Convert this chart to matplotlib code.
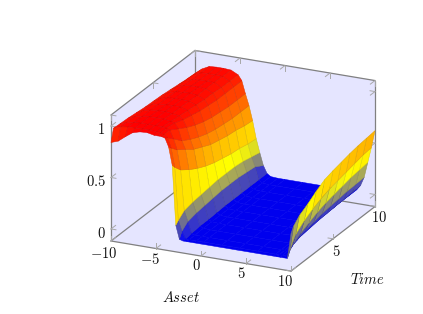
import numpy as np
import matplotlib
matplotlib.use("Agg")
import matplotlib.pyplot as plt
from matplotlib.colors import LinearSegmentedColormap
from mpl_toolkits.mplot3d import proj3d
from mpl_toolkits.mplot3d.art3d import Poly3DCollection

plt.rcParams['mathtext.fontset'] = 'cm'

asset = [-10, -9.2, -8.4, -7.6, -6.8, -6, -5.2, -4.8, -4.4, -4, -3.6, -3.2, -2.8, -2.4, -2, -1.6, -0.8, 0, 2, 4, 6, 8, 8.4, 8.8, 9.2, 9.6, 10]
time = [0, 0.3, 1, 2, 3, 4, 5, 6, 7, 8, 9, 10]
price_t00 = [.84, .865, .92, .97, .99, .995, .98, .98, .98, .97, .89, .72, .14, .01, 0, 0, 0, 0, 0, 0, 0, 0, 0, 0, 0, 0, .25]
price_t03 = [.96, .985, .995, .995, 1, 1, .995, .99, .98, .955, .86, .68, .17, .07, 0, 0, 0, 0, 0, 0, 0, 0, 0, 0, 0, .06, .30]
price_t1 = [.955, .985, .995, 1, 1, 1, 1, .99, .98, .90, .80, .61, .22, .12, .01, 0, 0, 0, 0, 0, 0, 0, 0, .01, .05, .17, .36]
price_t2 = [.95, .98, .99, 1, 1, 1, .99, .98, .93, .82, .74, .55, .24, .14, .02, .005, 0, 0, 0, 0, 0, 0, .01, .04, .11, .24, .41]
price_t3 = [.94, .975, .99, .995, 1, .99, .98, .95, .88, .77, .68, .50, .25, .15, .02, .005, 0, 0, 0, 0, 0, .005, .02, .07, .15, .29, .47]
price_t4 = [.93, .97, .985, .99, .995, .99, .97, .93, .84, .73, .64, .46, .26, .16, .025, .005, 0, 0, 0, 0, 0, .01, .03, .09, .19, .33, .52]
price_t5 = [.925, .965, .985, .99, .99, .985, .96, .91, .81, .70, .60, .43, .27, .17, .03, .005, 0, 0, 0, 0, 0, .012, .04, .11, .22, .36, .545]
price_t6 = [.92, .96, .98, .985, .99, .98, .95, .90, .79, .68, .58, .41, .27, .17, .03, .005, 0, 0, 0, 0, 0, .015, .045, .12, .24, .38, .565]
price_t7 = [.91, .955, .98, .985, .985, .98, .95, .89, .78, .67, .56, .39, .27, .17, .03, .005, 0, 0, 0, 0, 0, .018, .05, .13, .26, .40, .585]
price_t8 = [.90, .95, .975, .98, .98, .98, .94, .89, .77, .66, .55, .38, .26, .16, .03, .005, 0, 0, 0, 0, 0, .02, .055, .14, .28, .42, .60]
price_t9 = [.89, .945, .975, .98, .98, .975, .94, .89, .77, .66, .53, .36, .24, .15, .03, .005, 0, 0, 0, 0, 0, .02, .06, .145, .29, .44, .61]
price_t10 = [.885, .94, .975, .98, .98, .975, .94, .89, .77, .66, .52, .35, .22, .10, .03, .005, 0, 0, 0, 0, 0, .02, .065, .15, .30, .45, .62]
asset_ticks = [-10, -5, 0, 5, 10]
time_ticks = [0, 5, 10]
price_ticks = [0, 0.5, 1]

WALL = '#E5E5FF'
GRAY = '#808080'
TICK = '#A8A8A8'
zmin, zmax = -0.117, 1.107
W, H = 423, 314

Z = np.array([price_t00, price_t03, price_t1, price_t2, price_t3, price_t4, price_t5,
              price_t6, price_t7, price_t8, price_t9, price_t10])
X, T = np.meshgrid(asset, time)

cmap = LinearSegmentedColormap.from_list('m', ['#0000FF', '#FFFF00', '#FF8000', '#FF0000'])
meanz = (Z[:-1, :-1] + Z[1:, :-1] + Z[:-1, 1:] + Z[1:, 1:]) / 4
face = cmap(np.clip(meanz, 0, 1))
low = meanz < 0.02
face[low] = (0, 0, 238 / 255, 1)
edge = face.copy()
edge[..., :3] *= 0.88
edge[low] = face[low]
face_full = np.zeros(Z.shape + (4,))
face_full[:-1, :-1] = face

fig = plt.figure(figsize=(W / 100, H / 100), dpi=100)
side = 3.0
ax = fig.add_axes([0.1, 0.1, side / (W / 100), side / (H / 100)], projection='3d', computed_zorder=False)
ax.set_proj_type('ortho')
ax.view_init(elev=21, azim=-65)
ax.set_box_aspect((198.7, 198.8, 135))
ax.set_axis_off()

# walls
x0, x1, t0, t1 = -10, 10, 0, 10
walls = [
    [(x0, t0, zmin), (x1, t0, zmin), (x1, t1, zmin), (x0, t1, zmin)],
    [(x0, t0, zmin), (x0, t1, zmin), (x0, t1, zmax), (x0, t0, zmax)],
    [(x0, t1, zmin), (x1, t1, zmin), (x1, t1, zmax), (x0, t1, zmax)],
]
ax.add_collection3d(Poly3DCollection(walls, facecolors=WALL, edgecolors=WALL, linewidths=0.3, zorder=1))

# box lines
edges = [
    ((x0, t0, zmin), (x1, t0, zmin)), ((x1, t0, zmin), (x1, t1, zmin)),
    ((x0, t0, zmin), (x0, t1, zmin)), ((x0, t1, zmin), (x1, t1, zmin)),
    ((x0, t0, zmin), (x0, t0, zmax)), ((x0, t1, zmin), (x0, t1, zmax)),
    ((x1, t1, zmin), (x1, t1, zmax)), ((x0, t0, zmax), (x0, t1, zmax)),
    ((x0, t1, zmax), (x1, t1, zmax)),
]
for a, b in edges:
    ax.plot(*zip(a, b), color=GRAY, lw=0.9, zorder=2, solid_capstyle='round')

# chevron ticks
ax_len, t_len, z_len = 0.55, 0.55, 0.05
def chevron(p, d1, d2):
    for d in (d1, d2):
        q = (p[0] + d[0], p[1] + d[1], p[2] + d[2])
        ax.plot(*zip(p, q), color=TICK, lw=0.7, zorder=2)
for v in asset_ticks:
    chevron((v, t0, zmin), (0, t_len, 0), (0, 0, z_len))
    chevron((v, t1, zmax), (0, -t_len, 0), (0, 0, -z_len))
for v in time_ticks:
    chevron((x1, v, zmin), (-ax_len, 0, 0), (0, 0, z_len))
    chevron((x0, v, zmax), (ax_len, 0, 0), (0, 0, -z_len))
for v in price_ticks:
    chevron((x0, t0, v), (ax_len, 0, 0), (0, t_len, 0))
    chevron((x1, t1, v), (-ax_len, 0, 0), (0, -t_len, 0))

surf = ax.plot_surface(X, T, Z, rstride=1, cstride=1, facecolors=face_full, shade=False,
                       linewidth=0.35, antialiased=True, zorder=3)
surf.set_edgecolors(edge.reshape(-1, 4))

ax.set_xlim(x0, x1)
ax.set_ylim(t0, t1)
ax.set_zlim(zmin, zmax)

# place the box on the figure: front-left corner and back-right corner
def pix(p):
    fig.canvas.draw()
    xx, yy, _ = proj3d.proj_transform(*p, ax.get_proj())
    return ax.transData.transform((xx, yy))
A, B = (x0, t0, zmin), (x1, t1, zmax)
ta, tb = np.array([111.0, H - 241.0]), np.array([375.0, H - 82.0])
pa, pb = pix(A), pix(B)
scale = (tb[0] - ta[0]) / (pb[0] - pa[0])
side *= scale
ax.set_position([0.1, 0.1, side / (W / 100), side / (H / 100)])
pa = pix(A)
dx, dy = ta - pa
ax.set_position([0.1 + dx / W, 0.1 + dy / H, side / (W / 100), side / (H / 100)])

# labels (pixel centres from the top left)
FS = 10.5
def label(px, py, s, fs=FS):
    fig.text(px / W, 1 - py / H, s, ha='center', va='center', fontsize=fs, color='#111111')
for px, py, s in [(104, 253, '$-10$'), (150, 260, '$-5$'), (196, 266, '$0$'), (241, 273, '$5$'), (285, 281, '$10$'),
                  (336, 252, '$5$'), (379, 217, '$10$'),
                  (101, 129.5, '$1$'), (96, 181.5, '$0.5$'), (101, 233.5, '$0$')]:
    label(px, py, s)
label(181, 297, '$Asset$')
label(367, 280, '$Time$')

fig.savefig('out.png', dpi=100, facecolor='white')
